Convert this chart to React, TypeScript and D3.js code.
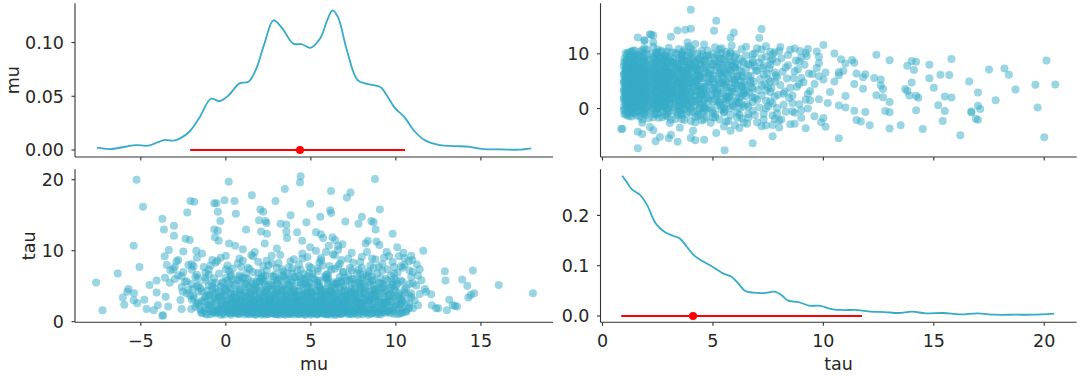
import React from 'react';
import * as d3 from 'd3';

// ---------- tick values ----------
const muTicks = [-5, 0, 5, 10, 15];
const tauTicks = [0, 5, 10, 15, 20];
const muDensTicks = [0, 0.05, 0.1];
const tauDensTicks = [0, 0.1, 0.2];
const muValueTicks = [0, 10];
const tauValueTicks = [0, 10, 20];

// ---------- axis domains ----------
const muDomain: [number, number] = [-8.87, 19.24];
const tauDomain: [number, number] = [-0.09, 21.47];
const muDensDomain: [number, number] = [-0.0065, 0.1365];
const tauDensDomain: [number, number] = [-0.0125, 0.2917];

// ---------- marginal densities [value, density] ----------
const muKde: [number, number][] = [
  [-7.58, 0.0022], [-6.78, 0.0009], [-5.31, 0.0046], [-4.57, 0.004], [-3.62, 0.0093],
  [-2.99, 0.009], [-2.15, 0.017], [-1.52, 0.031], [-0.88, 0.0477], [-0.36, 0.0455],
  [0.17, 0.051], [0.8, 0.062], [1.33, 0.0635], [1.75, 0.074], [2.27, 0.099],
  [2.8, 0.1207], [3.33, 0.113], [3.96, 0.099], [4.48, 0.0984], [4.97, 0.095],
  [5.54, 0.1037], [5.96, 0.1207], [6.27, 0.13], [6.59, 0.1238], [7.12, 0.0928],
  [7.75, 0.065], [8.38, 0.0613], [9.12, 0.0582], [9.43, 0.0517], [9.96, 0.0387],
  [10.48, 0.031], [11.12, 0.017], [11.75, 0.0087], [12.59, 0.0046], [13.43, 0.0037],
  [14.27, 0.0031], [15.12, 0.0009], [16.17, 0.0006], [17.22, 0.0003], [17.96, 0.0015],
];
const tauKde: [number, number][] = [
  [0.89, 0.2788], [1.09, 0.2669], [1.32, 0.2523], [1.71, 0.2404], [2.02, 0.2205],
  [2.41, 0.1841], [2.8, 0.1675], [3.19, 0.1596], [3.5, 0.1543], [3.82, 0.1377],
  [4.13, 0.1212], [4.52, 0.1093], [4.98, 0.098], [5.45, 0.0848], [5.84, 0.0781],
  [6.15, 0.0649], [6.46, 0.0497], [6.85, 0.0464], [7.32, 0.0457], [7.79, 0.0483],
  [8.1, 0.0417], [8.41, 0.0305], [8.88, 0.0278], [9.35, 0.0205], [9.81, 0.0205],
  [10.44, 0.0132], [10.9, 0.0119], [11.53, 0.0119], [12.15, 0.0086], [12.77, 0.0079],
  [13.4, 0.006], [14.02, 0.0086], [14.64, 0.0053], [15.42, 0.006], [16.2, 0.0033],
  [16.98, 0.0053], [17.76, 0.0026], [18.69, 0.0026], [19.47, 0.0026], [20.45, 0.0046],
];

// ---------- interval + mean ----------
const muHdi: [number, number] = [-2.1, 10.54];
const muMean = 4.36;
const tauHdi: [number, number] = [0.85, 11.75];
const tauMean = 4.1;

// ---------- posterior samples [mu, tau] ----------
const tailSamples: [number, number][] = [
  [-7.63,5.53],[-7.25,1.6],[-6.36,6.8],[-6.06,3.4],[-5.97,2.4],[-5.8,4.2],[-5.72,4.6],[-5.42,3.0],[-5.4,4.0],[-5.42,10.7],
  [-5.25,20.0],[-5.21,2.6],[-5.08,7.7],[-4.87,16.2],[-4.79,3.1],[-4.66,1.8],[-4.49,5.15],[-4.24,1.6],[-4.07,4.1],[-4.07,5.8],
  [-4.0,2.3],[-3.73,0.85],[-3.7,0.9],[-3.73,14.5],[-3.64,13.0],[-3.58,6.2],[-3.54,3.5],[-3.47,8.0],[-3.39,2.15],[-3.3,5.5],
  [-3.26,7.2],[-3.35,10.1],[-3.05,13.5],[-3.05,12.1],[-3.0,7.7],[-2.8,8.7],[-2.8,6.55],[-2.6,1.8],[-2.54,4.2],[-2.67,3.05],
  [-2.5,9.9],[-2.37,11.7],[-2.27,15.4],[-2.12,11.5],[-2.08,17.0],[-2.01,8.1],[-1.95,4.6],[-1.86,16.9],[-2.03,1.8],[-1.74,10.0],
  [-1.63,6.1],[-0.68,16.7],[-0.68,13.0],[-0.55,16.7],[-0.47,15.5],[-0.32,14.2],[-0.08,17.1],[0.17,19.7],[0.51,17.0],[0.59,15.2],
  [0.19,11.0],[-0.47,12.8],[0.55,10.7],[-0.64,11.9],[-0.42,11.4],[1.19,13.0],[1.53,17.8],[2.03,15.8],[2.2,15.5],[1.95,14.3],
  [2.33,14.2],[2.39,13.9],[2.42,12.4],[2.08,12.7],[2.29,11.0],[2.92,17.0],[3.47,18.7],[3.22,13.8],[3.56,13.7],[3.81,15.0],
  [3.6,11.8],[3.56,12.7],[4.19,12.6],[4.4,20.5],[4.36,19.6],[4.49,11.4],[4.74,14.0],[4.96,16.6],[4.96,10.5],[5.3,12.6],
  [5.55,14.8],[5.59,12.3],[5.72,11.8],[5.89,9.8],[6.06,10.7],[6.14,15.7],[6.19,15.3],[6.19,18.4],[6.27,11.9],[6.42,11.5],
  [6.61,10.7],[6.86,10.9],[7.03,14.1],[7.12,17.5],[7.33,18.2],[7.8,13.8],[8.0,14.8],[8.22,11.0],[8.35,11.4],[8.56,14.2],
  [8.69,14.0],[8.77,20.1],[8.81,13.0],[9.06,15.8],[8.86,11.3],[9.03,10.8],[9.45,9.8],[9.81,12.4],[10.08,10.5],[10.17,9.2],
  [10.44,9.7],[10.76,8.5],[10.97,8.7],[11.23,8.05],[11.61,10.0],[11.78,4.2],[12.08,3.85],[12.12,2.3],[12.37,1.9],[12.5,1.9],
  [12.88,7.1],[12.92,5.8],[13.0,1.6],[13.14,3.1],[13.35,2.3],[13.47,2.2],[13.6,2.15],[13.9,5.95],[14.2,5.05],[14.26,3.4],
  [14.4,3.75],[14.53,7.2],[14.6,4.0],[16.05,5.15],[18.06,4.0],
];

const lowTauSamples: [number, number][] = [
  [-1.4,1.2],[-0.9,1.05],[-0.5,1.3],[-0.2,1.15],[0.1,1.42],[0.3,0.98],[0.6,1.25],[0.8,1.1],[1.0,1.35],[1.2,1.2],
  [1.4,1.05],[1.6,1.3],[1.8,1.15],[2.0,1.42],[2.1,0.98],[2.3,1.25],[2.5,1.1],[2.6,1.35],[2.8,1.2],[2.9,1.05],
  [3.0,1.3],[3.2,1.15],[3.3,1.42],[3.5,0.98],[3.6,1.25],[3.8,1.1],[4.0,1.35],[4.1,1.2],[4.3,1.05],[4.5,1.3],
  [4.6,1.15],[4.8,1.42],[5.0,0.98],[5.2,1.25],[5.4,1.1],[5.5,1.35],[5.7,1.2],[5.9,1.05],[6.0,1.3],[6.1,1.15],
  [6.3,1.42],[6.4,0.98],[6.6,1.25],[6.8,1.1],[7.0,1.35],[7.2,1.2],[7.4,1.05],[7.6,1.3],[7.9,1.15],[8.1,1.42],
  [8.4,0.98],[8.7,1.25],[9.0,1.1],[9.3,1.35],[9.7,1.2],[10.1,1.05],[10.4,1.3],
  [-1.2,1.12],[-0.7,1.28],[-0.3,0.96],[0.0,1.4],[0.25,1.18],[0.45,1.22],[0.75,1.08],[0.95,1.33],[1.15,1.47],[1.35,1.12],
  [1.55,1.28],[1.75,0.96],[1.95,1.4],[2.15,1.18],[2.25,1.22],[2.45,1.08],[2.65,1.33],[2.75,1.47],[2.95,1.12],[3.05,1.28],
  [3.15,0.96],[3.35,1.4],[3.45,1.18],[3.65,1.22],[3.75,1.08],[3.95,1.33],[4.15,1.47],[4.25,1.12],[4.45,1.28],[4.65,0.96],
  [4.75,1.4],[4.95,1.18],[5.15,1.22],[5.35,1.08],[5.55,1.33],[5.65,1.47],[5.85,1.12],[6.05,1.28],[6.15,0.96],[6.25,1.4],
  [6.45,1.18],[6.55,1.22],[6.75,1.08],[6.95,1.33],[7.15,1.47],[7.35,1.12],[7.55,1.28],[7.75,0.96],[8.05,1.4],[8.25,1.18],
  [8.55,1.22],[8.85,1.08],[9.15,1.33],[9.5,1.47],[9.9,1.12],[10.3,1.28],
  [-1.8,2.1],[-1.5,1.7],[-1.1,2.4],[-0.8,1.9],[-0.6,1.6],[-0.3,2.2],[-0.1,1.8],[0.2,2.45],[0.4,1.65],[0.5,2.05],
  [0.7,1.85],[0.9,2.3],[1.1,1.55],[1.3,2.15],[1.5,1.95],[1.7,2.35],[1.9,1.75],[2.0,2.0],[2.2,1.6],[2.4,2.25],
  [2.5,1.85],[2.7,2.4],[2.8,1.7],[3.0,2.1],[3.1,1.9],[3.3,2.3],[3.4,1.6],[3.6,2.0],[3.7,1.8],[3.9,2.45],
  [4.0,1.65],[4.2,2.15],[4.4,1.95],[4.5,2.3],[4.7,1.7],[4.9,2.05],[5.0,1.85],[5.2,2.4],[5.3,1.55],[5.5,2.2],
  [5.6,1.9],[5.8,2.35],[5.9,1.75],[6.1,2.1],[6.2,1.6],[6.4,2.25],[6.5,1.95],[6.7,2.4],[6.8,1.7],[7.0,2.0],
  [7.2,1.85],[7.4,2.3],[7.6,1.6],[7.8,2.15],[8.0,1.9],[8.3,2.4],[8.5,1.75],[8.8,2.05],[9.1,1.65],[9.4,2.3],
  [9.7,1.85],[10.0,2.2],[10.4,1.7],[10.8,2.0],
  [-0.4,1.72],[0.05,2.28],[0.6,2.12],[1.0,1.62],[1.45,2.42],[1.8,2.08],[2.35,1.68],[2.6,2.18],[2.9,1.82],[3.2,2.38],
  [3.5,1.78],[3.85,2.22],[4.1,1.58],[4.35,2.02],[4.6,2.44],[4.85,1.62],[5.1,2.12],[5.4,1.82],[5.7,2.28],[6.0,1.68],
  [6.3,2.02],[6.6,1.58],[6.9,2.32],[7.1,1.72],[7.5,2.08],[7.9,1.64],[8.2,2.22],[8.7,1.88],[9.2,2.36],[9.6,1.56],
  [10.2,2.42],[11.0,1.9],[11.3,2.3],
  [-1.3,1.55],[-1.0,1.85],[-0.75,1.38],[-0.45,1.62],[-0.15,1.9],[0.15,1.5],[0.35,1.75],[0.55,1.36],[0.85,1.68],[1.05,1.92],
  [1.25,1.45],[1.45,1.72],[1.65,1.52],[1.85,1.86],[2.05,1.33],[2.2,1.66],[2.4,1.95],[2.55,1.48],[2.7,1.78],[2.85,1.58],
  [3.0,1.9],[3.15,1.4],[3.3,1.7],[3.45,1.54],[3.6,1.82],[3.75,1.44],[3.9,1.64],[4.05,1.96],[4.2,1.5],[4.35,1.76],
  [4.5,1.38],[4.65,1.68],[4.8,1.9],[4.95,1.46],[5.1,1.72],[5.25,1.56],[5.4,1.88],[5.55,1.42],[5.7,1.66],[5.85,1.94],
  [6.0,1.52],[6.15,1.78],[6.3,1.36],[6.45,1.62],[6.6,1.9],[6.75,1.48],[6.9,1.74],[7.05,1.56],[7.2,1.92],[7.4,1.4],
  [7.6,1.7],[7.8,1.52],[8.0,1.84],[8.2,1.44],[8.45,1.66],[8.7,1.9],[8.95,1.5],[9.25,1.76],[9.55,1.4],[9.85,1.62],
  [10.2,1.86],[10.6,1.46],
  [-1.7,2.55],[-1.3,2.85],[-0.95,2.35],[-0.6,2.7],[-0.25,2.95],[0.05,2.5],[0.35,2.8],[0.65,2.4],[0.95,2.65],[1.2,2.9],
  [1.45,2.45],[1.7,2.75],[1.95,2.55],[2.15,2.92],[2.35,2.38],[2.55,2.68],[2.75,2.88],[2.95,2.48],[3.15,2.72],[3.35,2.58],
  [3.55,2.94],[3.75,2.42],[3.95,2.7],[4.15,2.52],[4.35,2.86],[4.55,2.36],[4.75,2.64],[4.95,2.9],[5.15,2.46],[5.35,2.76],
  [5.55,2.56],[5.75,2.98],[5.95,2.4],[6.15,2.7],[6.35,2.52],[6.55,2.84],[6.75,2.44],[6.95,2.66],[7.15,2.94],[7.4,2.5],
  [7.65,2.78],[7.9,2.4],[8.15,2.62],[8.4,2.9],[8.7,2.46],[9.0,2.72],[9.3,2.54],[9.65,2.86],[10.0,2.44],[10.35,2.68],
  [10.8,2.5],
];

const floorSamples: [number, number][] = [
  [-1.45,1.32],[-1.1,1.0],[-0.85,1.48],[-0.6,1.14],[-0.35,1.36],[-0.1,1.02],[0.2,1.26],[0.4,1.52],[0.65,1.16],[0.9,1.44],
  [1.1,1.0],[1.3,1.3],[1.5,1.56],[1.7,1.06],[1.9,1.34],[2.05,1.18],[2.2,1.5],[2.35,1.02],[2.55,1.38],[2.7,1.14],
  [2.85,1.46],[3.0,1.04],[3.1,1.24],[3.25,1.54],[3.4,1.08],[3.55,1.36],[3.7,1.16],[3.85,1.48],[4.0,1.02],[4.2,1.3],
  [4.4,1.12],[4.55,1.5],[4.7,1.04],[4.9,1.34],[5.05,1.16],[5.2,1.46],[5.35,1.0],[5.5,1.26],[5.65,1.12],[5.8,1.52],
  [5.95,1.06],[6.1,1.36],[6.2,1.22],[6.35,1.5],[6.5,1.02],[6.65,1.32],[6.85,1.16],[7.0,1.48],[7.2,1.04],[7.4,1.38],
  [7.6,1.14],[7.85,1.5],[8.05,1.06],[8.3,1.34],[8.55,1.12],[8.8,1.44],[9.1,1.0],[9.4,1.26],[9.8,1.5],[10.25,1.16],
  [10.6,1.38],
  [-1.6,2.3],[-1.2,1.95],[-0.9,2.5],[-0.5,2.05],[-0.2,2.45],[0.1,1.95],[0.35,2.35],[0.6,1.78],[0.8,2.55],[1.05,2.2],
  [1.25,1.8],[1.5,2.5],[1.7,2.05],[1.9,2.6],[2.1,1.88],[2.3,2.42],[2.5,2.1],[2.7,1.92],[2.85,2.55],[3.05,2.02],
  [3.25,1.75],[3.45,2.48],[3.6,2.15],[3.8,1.9],[4.0,2.5],[4.2,1.8],[4.4,2.35],[4.6,2.05],[4.8,2.55],[5.0,1.78],
  [5.2,2.3],[5.4,2.0],[5.6,2.58],[5.8,1.82],[6.0,2.4],[6.2,2.15],[6.4,1.8],[6.6,2.5],[6.8,2.05],[7.0,2.35],
  [7.25,1.85],[7.5,2.55],[7.75,2.0],[8.0,2.3],[8.3,1.8],[8.6,2.5],[8.9,2.1],[9.2,1.9],[9.55,2.4],[9.9,2.0],
  [10.3,2.5],[10.7,1.8],
];

const bulkSamples: [number, number][] = [
  [-0.4,3.5],[0.0,2.9],[0.3,4.6],[0.6,3.3],[0.9,5.6],[1.2,2.7],[1.4,4.0],[1.7,5.1],[1.9,3.2],[2.1,6.2],
  [2.3,4.5],[2.5,2.8],[2.7,5.4],[2.9,3.7],[3.1,6.0],[3.3,4.4],[3.5,3.0],[3.7,5.0],[3.9,3.9],[4.1,6.3],
  [4.3,2.9],[4.5,4.7],[4.7,3.4],[4.9,5.6],[5.1,4.1],[5.3,2.7],[5.5,5.0],[5.7,3.6],[5.9,6.1],[6.1,4.3],
  [6.3,3.1],[6.5,5.3],[6.7,3.8],[6.9,4.9],[7.1,2.9],[7.3,5.7],[7.5,4.2],[7.7,3.3],[7.9,5.0],[8.1,3.9],
  [8.3,6.0],[8.5,3.1],[8.7,4.6],[8.9,3.6],[9.1,5.4],[9.3,4.0],[9.5,2.8],
  [-0.8,5.0],[-0.2,4.0],[0.2,5.5],[0.5,2.85],[0.8,4.5],[1.0,3.6],[1.3,6.0],[1.6,3.0],[1.8,4.8],[2.0,3.5],
  [2.2,5.6],[2.4,4.2],[2.6,3.2],[2.8,6.4],[3.0,4.6],[3.2,2.9],[3.4,5.2],[3.6,3.6],[3.8,5.8],[4.0,4.5],
  [4.2,3.1],[4.4,6.1],[4.6,3.7],[4.8,5.0],[5.0,4.2],[5.2,3.0],[5.4,5.5],[5.6,4.4],[5.8,3.3],[6.0,6.3],
  [6.2,3.9],[6.4,4.8],[6.6,2.9],[6.8,5.5],[7.0,4.3],[7.2,3.5],[7.4,6.0],[7.6,4.0],[7.8,2.8],[8.0,5.3],
  [8.2,4.4],[8.4,3.2],[8.6,5.8],[8.8,4.1],[9.0,3.0],[9.2,4.8],[9.6,3.6],[10.0,5.0],
  [-1.0,6.6],[0.0,7.4],[0.8,6.3],[1.6,7.0],[2.3,6.5],[3.0,7.6],[3.6,6.8],[4.2,7.2],[4.8,6.4],[5.4,7.5],
  [6.0,6.7],[6.6,7.8],[7.2,6.5],[7.8,7.3],[8.4,6.8],[9.0,7.7],[9.7,6.5],[10.4,7.6],
];

const midTauSamples: [number, number][] = [
  [-2.0,3.1],[-1.6,2.7],[-1.2,3.4],[-0.9,2.9],[-0.5,3.2],[-0.2,2.6],[0.1,3.0],[0.4,3.45],[0.6,2.75],[0.9,3.15],
  [1.1,2.55],[1.3,3.3],[1.6,2.85],[1.8,3.05],[2.0,2.65],[2.2,3.4],[2.4,2.95],[2.6,3.2],[2.7,2.6],[2.9,3.35],
  [3.1,2.8],[3.3,3.1],[3.5,2.7],[3.7,3.45],[3.9,2.9],[4.1,3.25],[4.3,2.55],[4.5,3.0],[4.7,3.4],[4.9,2.75],
  [5.1,3.15],[5.3,2.6],[5.5,3.3],[5.7,2.85],[5.9,3.05],[6.1,2.65],[6.3,3.4],[6.5,2.95],[6.7,3.2],[6.9,2.7],
  [7.1,3.35],[7.3,2.8],[7.6,3.1],[7.9,2.6],[8.2,3.25],[8.5,2.9],[8.8,3.45],[9.1,2.7],[9.4,3.05],[9.8,2.85],
  [10.2,3.3],[10.6,2.65],[11.1,3.0],
  [-0.7,3.38],[0.3,2.62],[0.8,3.02],[1.5,3.42],[2.1,2.82],[2.5,3.12],[3.0,2.58],[3.4,3.28],[3.8,2.78],[4.2,3.18],
  [4.6,2.68],[5.0,3.38],[5.4,2.92],[5.8,3.22],[6.2,2.58],[6.6,3.08],[7.0,2.88],[7.5,3.42],[8.0,2.72],[8.6,3.18],
  [9.3,2.62],[9.9,3.38],[10.4,2.92],
  [-1.9,3.3],[-1.4,2.95],[-1.0,3.6],[-0.6,3.0],[-0.2,3.7],[0.2,3.25],[0.5,3.85],[0.8,2.8],[1.1,3.5],[1.4,3.05],
  [1.7,3.75],[2.0,3.2],[2.3,2.7],[2.6,3.55],[2.9,3.0],[3.2,3.8],[3.5,3.15],[3.8,2.75],[4.1,3.6],[4.4,3.1],
  [4.7,3.9],[5.0,2.85],[5.3,3.5],[5.6,3.05],[5.9,3.75],[6.2,3.2],[6.5,2.75],[6.8,3.55],[7.1,3.1],[7.4,3.85],
  [7.7,2.9],[8.0,3.45],[8.3,3.0],[8.6,3.7],[9.0,3.2],[9.4,2.8],[9.8,3.6],[10.3,3.15],[10.8,3.7],
  [-2.3,4.0],[-1.9,3.6],[-1.4,4.3],[-1.0,3.8],[-0.6,4.1],[-0.3,3.55],[0.0,4.4],[0.3,3.9],[0.6,4.2],[0.9,3.65],
  [1.2,4.05],[1.5,3.75],[1.7,4.35],[2.0,3.85],[2.3,4.15],[2.5,3.6],[2.8,4.45],[3.0,3.95],[3.3,4.25],[3.5,3.7],
  [3.8,4.1],[4.0,3.55],[4.3,4.3],[4.5,3.8],[4.8,4.0],[5.0,3.65],[5.3,4.4],[5.5,3.9],[5.8,4.2],[6.0,3.75],
  [6.3,4.05],[6.5,3.6],[6.8,4.35],[7.0,3.85],[7.3,4.15],[7.6,3.7],[7.9,4.45],[8.2,3.95],[8.5,4.25],[8.8,3.6],
  [9.2,4.1],[9.6,3.8],[10.0,4.3],[10.4,3.65],[10.9,4.0],[11.4,3.9],
  [-0.8,4.48],[0.5,3.58],[1.4,4.18],[2.2,3.68],[2.9,4.02],[3.6,4.38],[4.2,3.62],[4.9,4.22],[5.6,3.72],[6.2,4.32],
  [7.1,3.58],[7.8,4.12],[8.6,3.82],[9.4,4.42],[10.2,3.98],
  [-2.1,3.7],[-1.6,4.2],[-1.2,3.55],[-0.75,3.95],[-0.4,4.3],[-0.05,3.65],[0.25,4.0],[0.55,3.45],[0.85,3.85],[1.15,4.25],
  [1.4,3.5],[1.65,3.9],[1.9,4.4],[2.15,3.6],[2.4,4.0],[2.65,3.4],[2.85,3.8],[3.1,4.3],[3.35,3.55],[3.6,3.95],
  [3.85,3.35],[4.1,4.15],[4.35,3.7],[4.6,4.05],[4.85,3.45],[5.1,3.85],[5.35,4.3],[5.6,3.5],[5.85,3.9],[6.1,4.4],
  [6.35,3.65],[6.6,4.0],[6.85,3.4],[7.1,3.8],[7.35,4.25],[7.6,3.55],[7.85,3.95],[8.1,3.4],[8.4,4.2],[8.7,3.7],
  [9.0,4.35],[9.35,3.5],[9.7,3.9],[10.1,3.6],[10.5,4.1],[10.9,3.45],
  [-2.6,4.9],[-2.0,5.3],[-1.5,4.7],[-1.0,5.1],[-0.6,4.6],[-0.2,5.4],[0.2,4.85],[0.5,5.2],[0.9,4.55],[1.3,5.0],
  [1.6,5.35],[2.0,4.75],[2.3,5.15],[2.7,4.6],[3.0,5.45],[3.3,4.95],[3.7,5.25],[4.0,4.65],[4.4,5.05],[4.7,5.4],
  [5.0,4.8],[5.4,5.2],[5.7,4.55],[6.0,5.0],[6.4,5.3],[6.7,4.7],[7.0,5.1],[7.4,4.6],[7.8,5.45],[8.1,4.9],
  [8.5,5.25],[8.9,4.65],[9.3,5.05],[9.7,4.8],[10.1,5.35],[10.6,4.75],[11.2,5.1],[11.7,4.6],
  [0.0,4.62],[1.1,5.28],[2.5,4.92],[3.5,4.58],[4.6,5.32],[5.5,4.88],[6.5,5.42],[7.6,4.72],[8.7,5.12],[9.9,4.52],
  [-2.2,4.5],[-1.6,5.1],[-1.1,4.35],[-0.6,5.5],[-0.1,4.7],[0.4,5.9],[0.8,4.4],[1.2,5.3],[1.6,4.6],[2.0,5.7],
  [2.4,4.45],[2.8,5.1],[3.2,4.7],[3.6,5.9],[4.0,4.4],[4.4,5.5],[4.8,4.8],[5.2,6.0],[5.6,4.5],[6.0,5.4],
  [6.4,4.6],[6.8,5.8],[7.2,4.4],[7.6,5.2],[8.0,4.65],[8.4,5.6],[8.8,4.45],[9.2,5.3],[9.6,4.7],[10.0,5.8],
  [10.5,4.5],[11.0,5.4],
];

const highTauSamples: [number, number][] = [
  [-3.0,6.0],[-2.4,5.6],[-1.8,6.3],[-1.2,5.8],[-0.7,6.1],[-0.2,5.55],[0.3,6.4],[0.7,5.9],[1.1,6.2],[1.5,5.65],
  [1.9,6.05],[2.3,5.75],[2.7,6.35],[3.1,5.85],[3.5,6.15],[3.9,5.6],[4.3,6.45],[4.7,5.95],[5.1,6.25],[5.5,5.7],
  [5.9,6.1],[6.3,5.55],[6.7,6.3],[7.1,5.8],[7.5,6.0],[7.9,5.65],[8.3,6.4],[8.7,5.9],[9.1,6.2],[9.5,5.75],
  [9.9,6.05],[10.4,5.6],[10.9,6.3],[11.5,5.85],
  [0.0,6.2],[2.0,5.72],[4.0,6.28],[6.0,5.92],[8.0,6.12],[9.8,5.58],
  [-2.3,5.7],[-1.7,5.0],[-1.2,6.2],[-0.8,5.5],[-0.3,4.95],[0.1,5.8],[0.6,5.35],[1.0,6.1],[1.4,4.8],[1.8,5.6],
  [2.2,6.3],[2.6,5.2],[3.0,5.75],[3.4,6.4],[3.8,5.1],[4.2,5.6],[4.6,6.0],[5.0,5.3],[5.4,5.85],[5.8,6.35],
  [6.2,4.85],[6.6,5.65],[7.0,6.2],[7.4,5.35],[7.8,5.9],[8.2,5.0],[8.6,6.35],[9.0,5.5],[9.4,6.0],[9.8,5.2],
  [10.3,5.8],[10.8,5.3],[11.3,6.5],
  [-2.5,7.0],[-1.7,6.6],[-1.0,7.3],[-0.4,6.8],[0.2,7.1],[0.8,6.55],[1.4,7.4],[1.9,6.9],[2.4,7.2],[2.9,6.65],
  [3.4,7.05],[3.9,6.75],[4.4,7.35],[4.9,6.85],[5.4,7.15],[5.9,6.6],[6.4,7.45],[6.9,6.95],[7.4,7.25],[7.9,6.7],
  [8.4,7.1],[8.9,6.8],[9.5,7.4],[10.1,6.9],[10.8,7.2],
  [-2.2,8.0],[-1.3,7.7],[-0.6,8.3],[0.1,7.9],[0.7,8.2],[1.3,7.6],[1.9,8.45],[2.5,7.95],[3.1,8.25],[3.7,7.65],
  [4.3,8.05],[4.9,7.8],[5.5,8.35],[6.1,7.85],[6.7,8.15],[7.3,7.55],[7.9,8.4],[8.5,7.9],[9.2,8.1],[9.9,7.7],
  [-1.7,9.0],[-0.8,8.7],[0.0,9.3],[0.8,8.9],[1.6,9.2],[2.4,8.6],[3.2,9.4],[4.0,8.8],[4.8,9.1],[5.6,8.65],
  [6.4,9.35],[7.2,8.85],[8.0,9.15],[8.8,8.75],[9.6,9.25],[10.5,8.95],
  [-2.9,8.5],[-2.0,7.3],[-1.4,9.6],[-0.9,7.9],[-0.3,9.0],[0.4,7.5],[1.0,8.6],[1.7,9.8],[2.2,7.8],[2.7,9.3],
  [3.3,7.4],[3.8,8.5],[4.5,9.6],[5.0,7.6],[5.6,9.0],[6.2,7.3],[6.8,8.7],[7.4,9.7],[8.0,7.6],[8.6,8.9],
  [9.2,7.2],[9.8,8.4],[10.3,7.8],[10.9,9.3],[-3.6,9.2],[11.4,7.4],[1.2,6.8],[4.6,6.7],[7.7,6.9],[3.0,10.3],
  [6.6,10.1],
  [-2.6,6.4],[-1.9,7.8],[-1.2,6.9],[-0.5,8.6],[0.3,6.6],[0.9,7.7],[1.5,9.4],[2.1,6.8],[2.7,8.2],[3.3,6.5],
  [3.9,7.5],[4.5,8.9],[5.1,6.7],[5.7,7.9],[6.3,9.5],[6.9,7.0],[7.5,8.3],[8.1,6.6],[8.7,7.6],[9.3,9.0],
  [9.9,6.8],[10.5,8.0],[11.0,7.0],[-3.1,7.4],[1.0,10.2],[5.3,10.0],[8.3,9.8],
];

const samples: [number, number][] = [
  ...lowTauSamples, ...floorSamples, ...bulkSamples, ...midTauSamples, ...highTauSamples, ...tailSamples,
];

// ---------- style ----------
const W = 1080;
const H = 376;
const BLUE = '#36abc8';
const RED = '#ff0000';
const AXIS = '#333333';
const TEXT = '#262626';
const FONT = 'DejaVu Sans, sans-serif';
const FS = 17.5;

// panel extents
const colL: [number, number] = [75, 553];
const colR: [number, number] = [600.5, 1076.7];
const rowT: [number, number] = [157, 3.3];
const rowB: [number, number] = [322.3, 169.3];

const fmtInt = (v: number) => (v < 0 ? '\u2212' + Math.abs(v) : String(v));

type S = d3.ScaleLinear<number, number>;

function Axes({ x, y, xTicks, yTicks, yFmt, xLabels }: {
  x: S; y: S; xTicks: number[]; yTicks: number[]; yFmt: (v: number) => string; xLabels: boolean;
}) {
  const [x0, x1] = x.range();
  const [yb, yt] = y.range();
  return (
    <g fontFamily={FONT} fontSize={FS} fill={TEXT}>
      <line x1={x0} x2={x0} y1={yt} y2={yb} stroke={AXIS} strokeWidth={1.1} />
      <line x1={x0} x2={x1} y1={yb} y2={yb} stroke={AXIS} strokeWidth={1.1} />
      {xTicks.map((t) => (
        <g key={'x' + t}>
          <line x1={x(t)} x2={x(t)} y1={yb} y2={yb + 3.5} stroke={AXIS} strokeWidth={1.1} />
          {xLabels && (
            <text x={x(t)} y={yb + 25} textAnchor="middle">{fmtInt(t)}</text>
          )}
        </g>
      ))}
      {yTicks.map((t) => (
        <g key={'y' + t}>
          <line x1={x0 - 3.5} x2={x0} y1={y(t)} y2={y(t)} stroke={AXIS} strokeWidth={1.1} />
          <text x={x0 - 11} y={y(t)} dy="0.36em" textAnchor="end">{yFmt(t)}</text>
        </g>
      ))}
    </g>
  );
}

export default function App() {
  const muX = d3.scaleLinear().domain(muDomain).range(colL);
  const tauX = d3.scaleLinear().domain(tauDomain).range(colR);
  const muDensY = d3.scaleLinear().domain(muDensDomain).range(rowT);
  const muY = d3.scaleLinear().domain(muDomain).range(rowT);
  const tauY = d3.scaleLinear().domain(tauDomain).range(rowB);
  const tauDensY = d3.scaleLinear().domain(tauDensDomain).range(rowB);

  const muLine = d3.line<[number, number]>()
    .x((d) => muX(d[0])).y((d) => muDensY(d[1])).curve(d3.curveCatmullRom.alpha(0.5));
  const tauLine = d3.line<[number, number]>()
    .x((d) => tauX(d[0])).y((d) => tauDensY(d[1])).curve(d3.curveCatmullRom.alpha(0.5));

  const r = 4;
  return (
    <svg width={W} height={H} style={{ position: 'absolute', left: 0, top: 0, background: '#fff' }}>
      {/* top-left: mu density */}
      <path d={muLine(muKde) || ''} fill="none" stroke={BLUE} strokeWidth={1.8} />
      <line x1={muX(muHdi[0])} x2={muX(muHdi[1])} y1={muDensY(0)} y2={muDensY(0)} stroke={RED} strokeWidth={2} />
      <circle cx={muX(muMean)} cy={muDensY(0)} r={4} fill={RED} />
      <Axes x={muX} y={muDensY} xTicks={muTicks} yTicks={muDensTicks} yFmt={(v) => v.toFixed(2)} xLabels={false} />

      {/* top-right: tau vs mu */}
      <g fill={BLUE} fillOpacity={0.5}>
        {samples.map((s, i) => (
          <circle key={i} cx={tauX(s[1])} cy={muY(s[0])} r={r} />
        ))}
      </g>
      <Axes x={tauX} y={muY} xTicks={tauTicks} yTicks={muValueTicks} yFmt={fmtInt} xLabels={false} />

      {/* bottom-left: mu vs tau */}
      <g fill={BLUE} fillOpacity={0.5}>
        {samples.map((s, i) => (
          <circle key={i} cx={muX(s[0])} cy={tauY(s[1])} r={r} />
        ))}
      </g>
      <Axes x={muX} y={tauY} xTicks={muTicks} yTicks={tauValueTicks} yFmt={fmtInt} xLabels={true} />

      {/* bottom-right: tau density */}
      <path d={tauLine(tauKde) || ''} fill="none" stroke={BLUE} strokeWidth={1.8} />
      <line x1={tauX(tauHdi[0])} x2={tauX(tauHdi[1])} y1={tauDensY(0)} y2={tauDensY(0)} stroke={RED} strokeWidth={2} />
      <circle cx={tauX(tauMean)} cy={tauDensY(0)} r={4} fill={RED} />
      <Axes x={tauX} y={tauDensY} xTicks={tauTicks} yTicks={tauDensTicks} yFmt={(v) => v.toFixed(1)} xLabels={true} />

      {/* axis labels */}
      <g fontFamily={FONT} fontSize={FS} fill={TEXT}>
        <text x={(colL[0] + colL[1]) / 2} y={370} textAnchor="middle">mu</text>
        <text x={(colR[0] + colR[1]) / 2} y={370} textAnchor="middle">tau</text>
        <text transform={`translate(19,${(rowT[0] + rowT[1]) / 2}) rotate(-90)`} textAnchor="middle">mu</text>
        <text transform={`translate(35,${(rowB[0] + rowB[1]) / 2}) rotate(-90)`} textAnchor="middle">tau</text>
      </g>
    </svg>
  );
}
